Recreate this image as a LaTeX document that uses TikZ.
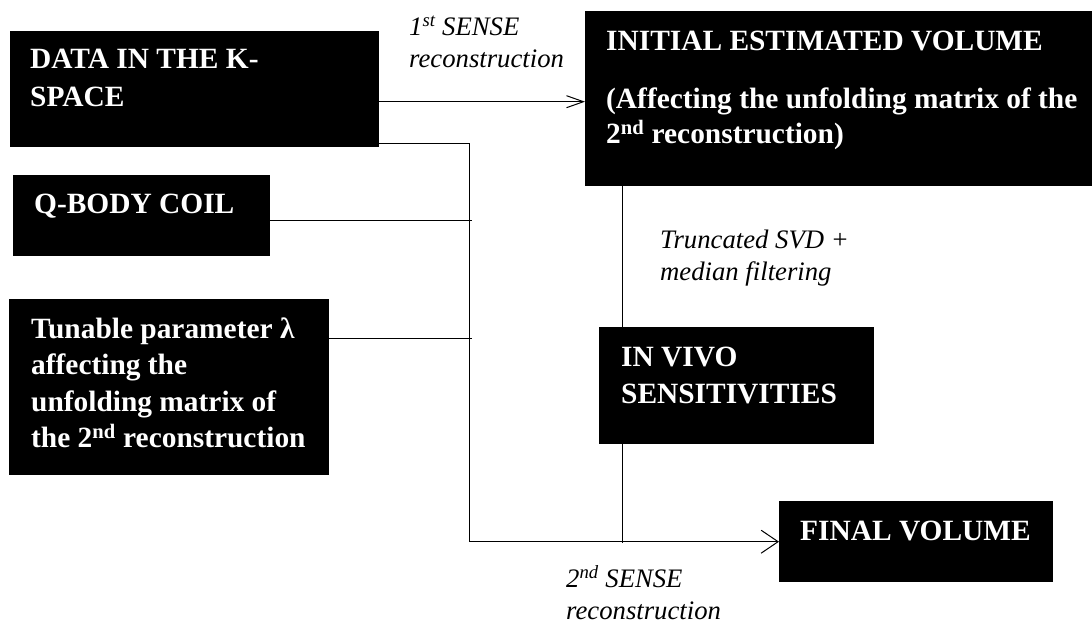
\documentclass[tikz,border=0pt]{standalone}
\usepackage{fontspec}
\setmainfont{Liberation Serif}
\usetikzlibrary{arrows.meta}

\tikzset{
  blackbox/.style={fill=black, draw=none, inner sep=0pt, anchor=north west},
  boxtext/.style={text=white, inner sep=0pt, anchor=north west, align=left,
    font=\bfseries\fontsize{29.4}{38}\selectfont},
  steplabel/.style={inner sep=0pt, anchor=north west, align=left,
    font=\itshape\fontsize{26.7}{32}\selectfont},
  wire/.style={draw=black, line width=1pt},
  smalltip/.style={-{Straight Barb[length=17pt,width=12pt,line width=1pt]}},
  bigtip/.style={-{Straight Barb[length=17pt,width=23pt,line width=1pt]}},
}

\begin{document}
\begin{tikzpicture}[x=1pt,y=-1pt]
  \useasboundingbox (0,0) rectangle (1092,623);

  % black boxes
  \node[blackbox, minimum width=369pt, minimum height=116pt] (data)   at (10,31)  {};
  \node[blackbox, minimum width=257pt, minimum height=81pt]  (qbody)  at (13,175) {};
  \node[blackbox, minimum width=320pt, minimum height=176pt] (tune)   at (9,299)  {};
  \node[blackbox, minimum width=507pt, minimum height=175pt] (init)   at (585,11) {};
  \node[blackbox, minimum width=275pt, minimum height=117pt] (invivo) at (599,327) {};
  \node[blackbox, minimum width=274pt, minimum height=81pt]  (final)  at (779,501) {};

  % box texts
  \node[boxtext] (datatxt) at (30,41.4) {\strut DATA IN THE K-\\\strut SPACE};
  \node[boxtext] (qbodytxt) at (34,186.4) {\strut Q-BODY COIL};
  \node[boxtext, font=\bfseries\fontsize{29.4}{36.4}\selectfont] (tunetxt) at (31,312.8)
    {\strut Tunable parameter λ\\\strut affecting the\\\strut unfolding matrix of\\\strut the 2\textsuperscript{nd} reconstruction};
  \node[boxtext, font=\bfseries\fontsize{29.4}{35}\selectfont] (inittxt) at (606,25.5)
    {\strut INITIAL ESTIMATED VOLUME\\[23pt]\strut (Affecting the unfolding matrix of the\\\strut 2\textsuperscript{nd} reconstruction)};
  \node[boxtext, font=\bfseries\fontsize{29.4}{37}\selectfont] (invivotxt) at (621,340.1)
    {\strut IN VIVO\\\strut SENSITIVITIES};
  \node[boxtext] (finaltxt) at (800,513.4) {\strut FINAL VOLUME};

  % step labels
  \node[steplabel] (first)  at (409,12.6)  {\strut 1\textsuperscript{st} SENSE\\\strut reconstruction};
  \node[steplabel] (svd)    at (660,225.6) {\strut Truncated SVD +\\\strut median filtering};
  \node[steplabel] (second) at (566,564.6) {\strut 2\textsuperscript{nd} SENSE\\\strut reconstruction};

  % junction points
  \coordinate (bus) at (469,541.7);
  \coordinate (tap) at (472,0);
  \coordinate (vx)  at (622.5,0);

  % connectors
  \draw[wire, smalltip] ([yshift=-12.5pt]data.east) -- ([yshift=-12.5pt]data.east -| init.west);
  \draw[wire, bigtip] ([yshift=3.7pt]data.south east) -| (bus) -- (final.west);
  \draw[wire] ([yshift=-5.2pt]qbody.east) -- ([yshift=-5.2pt]qbody.east -| tap);
  \draw[wire] ([yshift=-39.3pt]tune.north east) -- ([yshift=-39.3pt]tune.north east -| tap);
  \draw[wire] (init.south -| vx) -- (invivo.north -| vx);
  \draw[wire] (invivo.south -| vx) -- ([yshift=-1.5pt]vx |- final.west);
\end{tikzpicture}
\end{document}
